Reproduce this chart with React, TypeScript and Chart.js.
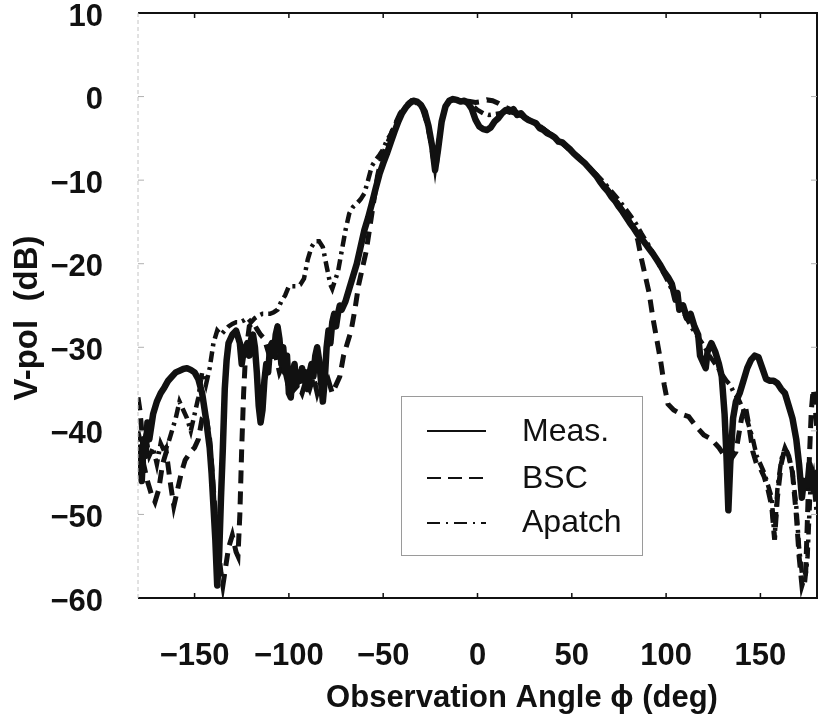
import React, { useEffect, useRef } from 'react';
import { Chart, registerables } from 'chart.js';

Chart.register(...registerables);

// ---- data: [angle (deg), level (dB)] ----
const measPoints: [number, number][] = [
  [-180,-45],[-179,-42],[-178,-46],[-177,-41],[-176,-43],[-175,-39],[-174,-41],[-172,-38],[-170,-36.5],[-168,-35.5],
  [-166,-34.8],[-164,-34],[-162,-33.5],[-160,-33],[-158,-32.8],[-156,-32.6],[-154,-32.5],[-152,-32.7],[-150,-33],[-148,-33.8],
  [-146,-35.5],[-144,-38.5],[-142,-42],[-141,-45],[-140,-49],[-139,-53],[-138,-58.5],[-137,-55],[-136,-48],[-135,-42],
  [-134,-35],[-133,-31.5],[-132,-29.5],[-130,-28.5],[-128,-28],[-126,-29.5],[-125,-32],[-124,-30.5],[-122,-29.5],[-121,-31],
  [-120,-29],[-119,-28.5],[-118,-30],[-117,-33],[-116,-37],[-115,-39],[-114,-37.5],[-113,-34],[-112,-32],[-111,-33],
  [-110,-30],[-109,-29.5],[-108,-31],[-107,-28.5],[-106,-27.5],[-105,-29],[-104,-32],[-103,-30],[-102,-33],[-101,-31],
  [-100,-35.5],[-99,-36],[-98,-33],[-97,-32],[-96,-34.5],[-95,-33],[-94,-34],[-93,-32.5],[-92,-34],[-91,-33],
  [-90,-35],[-89,-33],[-88,-32],[-87,-33.5],[-86,-31],[-85,-30],[-84,-31.5],[-83,-34],[-82,-36.5],[-81,-34],
  [-80,-30],[-79,-28],[-78,-29.5],[-77,-27],[-76,-26],[-75,-27.5],[-74,-26],[-73,-25],[-72,-25.5],[-70,-24.5],
  [-68,-23],[-66,-21.5],[-64,-20],[-62,-18],[-60,-16],[-58,-14.5],[-56,-12.8],[-54,-11],[-52,-9.3],[-50,-8],
  [-48,-6.8],[-46,-5.5],[-44,-4.2],[-42,-3],[-40,-2],[-38,-1.3],[-36,-0.8],[-34,-0.5],[-32,-0.6],[-30,-1],
  [-28,-1.8],[-26,-3.5],[-24,-6],[-22.5,-8.8],[-21,-6.5],[-19,-3],[-17,-1.2],[-15,-0.5],[-13,-0.3],[-11,-0.4],
  [-9,-0.6],[-7,-0.5],[-5,-0.8],[-3,-1.5],[-1,-2.8],[1,-3.6],[3,-3.9],[5,-4],[7,-3.7],[9,-3],
  [11,-2.6],[13,-2],[15,-1.6],[17,-1.8],[19,-1.5],[21,-2.2],[23,-2],[25,-2.5],[27,-2.8],[29,-3],
  [31,-3.2],[33,-3.8],[35,-4],[37,-4.4],[39,-4.6],[41,-4.9],[43,-5.4],[45,-5.5],[47,-5.9],[49,-6.3],
  [51,-6.8],[53,-7.2],[55,-7.6],[57,-8],[59,-8.5],[61,-9],[63,-9.5],[65,-10.2],[67,-10.8],[69,-11.3],
  [71,-12],[73,-12.5],[75,-13.2],[77,-13.8],[79,-14.5],[81,-15.2],[83,-15.8],[85,-16.5],[87,-17],[89,-17.6],
  [91,-18.2],[93,-18.8],[95,-19.5],[97,-20.2],[99,-21],[101,-21.6],[103,-22.4],[105,-24.3],[106,-23.5],[107,-25.5],
  [109,-25],[111,-26.5],[113,-26],[115,-27.5],[117,-28.5],[118,-31],[119,-31.5],[121,-32.5],[122,-30.5],[124,-29.5],
  [126,-30.5],[128,-32],[129.5,-33.5],[131,-38],[132,-43],[133,-49.5],[134,-44],[135.5,-38.5],[137,-36.5],[139,-35.5],
  [141,-34],[143,-32.5],[145,-31.5],[147,-31],[149,-31.2],[151,-32.5],[153,-33.8],[155,-34],[157,-34],[159,-34.3],
  [161,-35],[163,-35.5],[165,-37],[167,-38.5],[169,-41],[170.5,-44],[172,-48],[173,-46],[175,-46.5],[176,-44],
  [178,-47],[180,-45],
];

const bscPoints: [number, number][] = [
  [-180,-36],[-179,-37.5],[-178,-40],[-177,-44],[-175,-46],[-173,-47.5],[-171,-48.5],[-169,-47],[-167,-44],[-165,-42.5],
  [-163,-46],[-161,-49],[-159,-47],[-157,-45],[-155,-43.5],[-152,-42.5],[-150,-42],[-148,-41],[-146,-38.5],[-144,-38],
  [-142,-41],[-140,-47],[-138,-53],[-136,-57],[-135,-58.5],[-134,-57],[-132,-54],[-130,-52.5],[-128,-54.5],[-127,-55],
  [-126,-50],[-125,-42],[-124,-35.5],[-123,-31],[-121,-27.5],[-119,-27],[-117,-27.8],[-115,-28.5],[-113,-29],[-111,-30.5],
  [-109,-29.5],[-107,-31],[-105,-33],[-103,-32],[-101,-34],[-99,-33.5],[-97,-35],[-95,-34.5],[-93,-35.5],[-91,-34],
  [-89,-35],[-87,-33.5],[-85,-35.5],[-83,-34],[-81,-35],[-79,-34],[-77,-35.5],[-75,-34.5],[-73,-33.5],[-71,-31],
  [-69,-29.5],[-67,-28],[-65,-25.5],[-63,-22.5],[-61,-20.5],[-59,-18.5],[-57,-15.5],[-55,-12.5],[-53,-9.5],[-51,-7.5],
  [-49,-6.3],[-47,-5.2],[-45,-4],[-43,-3],[-41,-2],[-39,-1.4],[-37,-0.9],[-35,-0.5],[-33,-0.6],[-31,-1],
  [-29,-1.6],[-27,-3],[-25,-5],[-23,-8],[-22,-8.6],[-21,-6.5],[-19,-3],[-17,-1.2],[-15,-0.6],[-13,-0.3],
  [-10,-0.4],[-7,-0.5],[-4,-0.6],[-1,-0.7],[2,-0.6],[5,-0.4],[8,-0.5],[11,-0.8],[14,-1.2],[17,-1.5],
  [20,-1.8],[23,-2.2],[26,-2.6],[29,-3],[32,-3.4],[35,-3.9],[38,-4.4],[41,-4.9],[44,-5.4],[47,-6],
  [50,-6.6],[53,-7.2],[56,-7.8],[59,-8.4],[62,-9.2],[65,-10],[68,-10.8],[71,-11.7],[74,-12.6],[77,-13.6],
  [80,-14.7],[83,-15.8],[85,-17.2],[87,-19.5],[89,-21.5],[91,-23.5],[93,-26.5],[95,-29],[97,-31.5],[99,-34.5],
  [101,-36.8],[104,-37.5],[108,-38],[112,-38.3],[116,-39.5],[120,-40.5],[124,-41],[128,-42],[131,-43],[134,-43.5],
  [137,-42.5],[140,-38.5],[142,-37],[144,-39.5],[146,-42.5],[148,-44],[150,-44.5],[152,-45.5],[154,-47],[156,-49],
  [157.5,-53],[159,-48],[161,-44],[163,-42],[165,-43],[167,-45],[169,-50],[170.5,-55],[172,-58.5],[174,-57],
  [175,-50],[176,-43],[177,-37.5],[178,-35],[179,-37],[180,-40],
];

const apatchPoints: [number, number][] = [
  [-180,-40],[-178,-42],[-176,-40.5],[-174,-43],[-172,-42],[-170,-44],[-168,-41.5],[-166,-42.5],[-164,-41.5],[-162,-40],
  [-160,-38.5],[-158,-36.5],[-156,-37.5],[-154,-38.5],[-152,-40],[-150,-38],[-148,-36],[-146,-33],[-144,-34.5],[-142,-32.5],
  [-140,-29.5],[-138,-28],[-136,-28.5],[-134,-28],[-132,-27.5],[-130,-27.2],[-128,-27],[-126,-27],[-124,-26.8],[-122,-26.5],
  [-120,-27],[-118,-26.5],[-116,-26.2],[-114,-26],[-112,-26],[-110,-26],[-108,-25.8],[-106,-25.5],[-104,-24.5],[-102,-23.8],
  [-100,-22.7],[-98,-22.7],[-96,-22.7],[-94,-22.5],[-92,-21.8],[-90,-19.5],[-88,-18],[-86,-17.3],[-84,-17.3],[-82,-18],
  [-80,-20.3],[-78,-22.5],[-77,-23],[-76,-22.3],[-74,-21],[-72,-18.5],[-70,-16],[-68,-14],[-66,-13.2],[-64,-12.8],
  [-62,-12.3],[-60,-11.6],[-58,-10],[-56,-8.3],[-54,-7.6],[-52,-7],[-50,-6.3],[-48,-5.2],[-46,-4.5],[-44,-3.5],
  [-42,-2.6],[-40,-1.8],[-38,-1.2],[-36,-0.7],[-34,-0.4],[-32,-0.6],[-30,-1],[-28,-1.8],[-26,-3.5],[-24,-6],
  [-22.5,-8.5],[-21,-6],[-19,-3],[-17,-1.2],[-15,-0.5],[-12,-0.4],[-9,-0.5],[-6,-0.6],[-3,-1],[0,-1.6],
  [3,-2],[6,-2.2],[9,-2.1],[12,-2],[15,-1.8],[18,-1.9],[21,-2.1],[24,-2.4],[27,-2.7],[30,-3.1],
  [33,-3.5],[36,-4],[39,-4.5],[42,-5],[45,-5.5],[48,-6.1],[51,-6.7],[54,-7.3],[57,-7.9],[60,-8.6],
  [63,-9.3],[66,-10],[69,-10.8],[72,-11.6],[75,-12.4],[78,-13.3],[81,-14.2],[84,-15.2],[87,-16.4],[90,-17.5],
  [93,-18.7],[96,-20],[99,-21.3],[102,-22.6],[105,-24],[108,-25.3],[111,-26.6],[114,-27.8],[117,-28.8],[120,-29.8],
  [123,-31],[126,-32],[129,-33],[132,-34],[134,-34.5],[136,-35.5],[138,-36],[140,-37],[142,-38],[144,-39.5],
  [146,-41],[148,-43],[150,-44],[152,-45],[154,-46.5],[156,-48],[157.5,-53],[159,-47],[161,-43.5],[163,-42],
  [165,-43],[167,-45],[169,-49],[170.5,-54],[172,-57],[173.5,-58.3],[175,-55],[176.5,-47],[178,-45.5],[179,-48],
  [180,-50],
];

const seriesLabels = ['Meas.', 'BSC', 'Apatch'];
const xTickValues = [-150, -100, -50, 0, 50, 100, 150];
const yTickValues = [-60, -50, -40, -30, -20, -10, 0, 10];
const xTitle = 'Observation Angle \u03D5 (deg)';
const yTitle = 'V-pol  (dB)';

const FONT = "'Liberation Sans', Arial, Helvetica, sans-serif";
const INK = '#111111';

const fmt = (v: number) => (v < 0 ? '\u2212' + Math.abs(v) : String(v));

const legendDash: number[][] = [[], [14, 7], [13, 6, 2, 6]];

const framePlugin = {
  id: 'frame',
  afterDraw(chart: any) {
    const { ctx, chartArea: a, scales } = chart;
    ctx.save();
    ctx.strokeStyle = INK;
    ctx.lineWidth = 2;
    ctx.beginPath();
    ctx.moveTo(a.left, a.top);
    ctx.lineTo(a.right, a.top);
    ctx.lineTo(a.right, a.bottom);
    ctx.lineTo(a.left, a.bottom);
    ctx.stroke();
    ctx.strokeStyle = '#c4c4c4';
    ctx.lineWidth = 1;
    ctx.setLineDash([4, 3]);
    ctx.beginPath();
    ctx.moveTo(a.left, a.top);
    ctx.lineTo(a.left, a.bottom);
    ctx.stroke();
    ctx.setLineDash([]);
    ctx.strokeStyle = INK;
    ctx.lineWidth = 1.5;
    for (const v of xTickValues) {
      const px = scales.x.getPixelForValue(v);
      ctx.beginPath();
      ctx.moveTo(px, a.top);
      ctx.lineTo(px, a.top + 5);
      ctx.moveTo(px, a.bottom);
      ctx.lineTo(px, a.bottom - 5);
      ctx.stroke();
    }
    ctx.strokeStyle = '#b0b0b0';
    ctx.lineWidth = 1;
    for (const v of yTickValues.slice(1, -1)) {
      const py = scales.y.getPixelForValue(v);
      ctx.beginPath();
      ctx.moveTo(a.left, py);
      ctx.lineTo(a.left + 6, py);
      ctx.moveTo(a.right - 6, py);
      ctx.lineTo(a.right, py);
      ctx.stroke();
    }
    // axis titles
    ctx.fillStyle = INK;
    ctx.font = `bold 31px ${FONT}`;
    ctx.textAlign = 'center';
    ctx.textBaseline = 'alphabetic';
    ctx.fillText(xTitle, 522, 707);
    ctx.save();
    ctx.translate(37, 318);
    ctx.rotate(-Math.PI / 2);
    ctx.font = `bold 33px ${FONT}`;
    ctx.fillText(yTitle, 0, 0);
    ctx.restore();
    ctx.restore();
  },
};

const legendPlugin = {
  id: 'boxLegend',
  afterDraw(chart: any) {
    const { ctx } = chart;
    const bx = 401, by = 396, bw = 241, bh = 159;
    ctx.save();
    ctx.fillStyle = '#ffffff';
    ctx.fillRect(bx, by, bw, bh);
    ctx.strokeStyle = '#9a9a9a';
    ctx.lineWidth = 1;
    ctx.strokeRect(bx + 0.5, by + 0.5, bw, bh);
    const rows = [431, 478, 523];
    const base = [441, 488, 532];
    chart.data.datasets.forEach((ds: any, i: number) => {
      ctx.strokeStyle = INK;
      ctx.lineWidth = 2;
      ctx.setLineDash(legendDash[i]);
      ctx.beginPath();
      ctx.moveTo(427, rows[i]);
      ctx.lineTo(486, rows[i]);
      ctx.stroke();
      ctx.setLineDash([]);
      ctx.fillStyle = INK;
      ctx.font = `32px ${FONT}`;
      ctx.textAlign = 'left';
      ctx.textBaseline = 'alphabetic';
      ctx.fillText(ds.label, 522, base[i]);
    });
    ctx.restore();
  },
};

export default function App() {
  const ref = useRef<HTMLCanvasElement | null>(null);
  useEffect(() => {
    const canvas = ref.current;
    if (!canvas) return;
    const toXY = (pts: [number, number][]) => pts.map(([x, y]) => ({ x, y }));
    const chart = new Chart(canvas, {
      type: 'line',
      data: {
        datasets: [
          {
            label: seriesLabels[0],
            data: toXY(measPoints),
            borderColor: INK,
            borderWidth: 6.5,
            pointRadius: 0,
            tension: 0,
            borderJoinStyle: 'round',
            borderCapStyle: 'round',
          },
          {
            label: seriesLabels[1],
            data: toXY(bscPoints),
            borderColor: INK,
            borderWidth: 5,
            borderDash: [13, 8],
            pointRadius: 0,
            tension: 0,
          },
          {
            label: seriesLabels[2],
            data: toXY(apatchPoints),
            borderColor: INK,
            borderWidth: 4.5,
            borderDash: [11, 5, 3, 5],
            pointRadius: 0,
            tension: 0,
          },
        ],
      },
      options: {
        responsive: false,
        animation: false,
        devicePixelRatio: 1,
        layout: { padding: { left: 0, right: 4, top: 13, bottom: 0 } },
        plugins: { legend: { display: false }, tooltip: { enabled: false } },
        scales: {
          x: {
            type: 'linear',
            min: -180,
            max: 180,
            grid: { display: false, drawTicks: false },
            border: { display: false },
            afterBuildTicks: (s: any) => {
              s.ticks = xTickValues.map((v) => ({ value: v }));
            },
            afterFit: (s: any) => {
              s.height = 127;
              s.paddingLeft = 0;
              s.paddingRight = 0;
            },
            ticks: {
              color: INK,
              padding: 40,
              maxRotation: 0,
              autoSkip: false,
              font: { family: FONT, size: 31, weight: 'bold' },
              callback: (v: any) => fmt(Number(v)),
            },
          },
          y: {
            type: 'linear',
            min: -60,
            max: 10,
            grid: { display: false, drawTicks: false },
            border: { display: false },
            afterBuildTicks: (s: any) => {
              s.ticks = yTickValues.map((v) => ({ value: v }));
            },
            afterFit: (s: any) => {
              s.width = 138;
              s.paddingTop = 0;
              s.paddingBottom = 0;
            },
            ticks: {
              color: INK,
              padding: 35,
              labelOffset: 4,
              autoSkip: false,
              font: { family: FONT, size: 31, weight: 'bold' },
              callback: (v: any) => fmt(Number(v)),
            },
          },
        },
      },
      plugins: [framePlugin, legendPlugin],
    } as any);
    return () => chart.destroy();
  }, []);
  return (
    <div style={{ position: 'fixed', left: 0, top: 0, width: 821, height: 725, background: '#ffffff' }}>
      <canvas ref={ref} width={821} height={725} style={{ display: 'block' }} />
    </div>
  );
}
